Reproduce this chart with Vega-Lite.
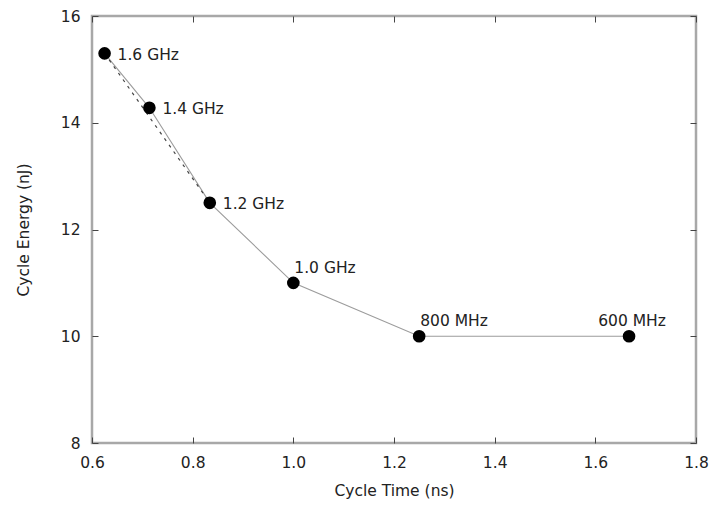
{
  "$schema": "https://vega.github.io/schema/vega-lite/v6.json",
  "autosize": "none",
  "width": 604,
  "height": 427,
  "padding": {"left": 92, "top": 16, "right": 24, "bottom": 63},
  "background": "white",
  "config": {
    "view": {"stroke": "#a8a8a8", "strokeWidth": 2.5},
    "axis": {
      "grid": false,
      "domain": false,
      "tickSize": -6,
      "tickColor": "#444",
      "tickWidth": 1,
      "labelFlush": false,
      "labelOverlap": false,
      "labelFont": "DejaVu Sans",
      "labelFontSize": 15.5,
      "labelColor": "#222",
      "titleFont": "DejaVu Sans",
      "titleFontSize": 15.5,
      "titleFontWeight": "normal",
      "titleColor": "#222"
    },
    "text": {"font": "DejaVu Sans", "fontSize": 15.5, "color": "#222"}
  },
  "datasets": {
    "pts": [
      {"freq": "1.6 GHz", "time": 0.625, "energy": 15.3},
      {"freq": "1.4 GHz", "time": 0.714, "energy": 14.28},
      {"freq": "1.2 GHz", "time": 0.834, "energy": 12.5},
      {"freq": "1.0 GHz", "time": 1.0, "energy": 11.0},
      {"freq": "800 MHz", "time": 1.25, "energy": 10.0},
      {"freq": "600 MHz", "time": 1.667, "energy": 10.0}
    ],
    "dash": [
      {"time": 0.625, "energy": 15.3},
      {"time": 0.834, "energy": 12.5}
    ]
  },
  "resolve": {"axis": {"x": "independent", "y": "independent"}},
  "layer": [
    {
      "data": {"name": "pts"},
      "mark": {"type": "line", "color": "#9c9c9c", "strokeWidth": 1.1},
      "encoding": {
        "x": {"field": "time", "type": "quantitative", "scale": {"domain": [0.6, 1.8], "nice": false, "zero": false},
              "axis": {"orient": "bottom", "title": "Cycle Time (ns)", "values": [0.6, 0.8, 1.0, 1.2, 1.4, 1.6, 1.8], "format": ".1f", "labelPadding": 18, "titlePadding": 13}},
        "y": {"field": "energy", "type": "quantitative", "scale": {"domain": [8, 16], "nice": false, "zero": false},
              "axis": {"orient": "left", "title": "Cycle Energy (nJ)", "values": [8, 10, 12, 14, 16], "labelPadding": 18, "titlePadding": 29}}
      }
    },
    {
      "data": {"name": "dash"},
      "mark": {"type": "line", "color": "#444444", "strokeWidth": 1.2, "strokeDash": [3, 5]},
      "encoding": {
        "x": {"field": "time", "type": "quantitative", "axis": null},
        "y": {"field": "energy", "type": "quantitative", "axis": null}
      }
    },
    {
      "data": {"name": "pts"},
      "mark": {"type": "point", "filled": true, "color": "black", "opacity": 1, "size": 160},
      "encoding": {
        "x": {"field": "time", "type": "quantitative", "axis": null},
        "y": {"field": "energy", "type": "quantitative", "axis": null}
      }
    },
    {
      "data": {"name": "pts"},
      "transform": [{"filter": "indexof(['1.6 GHz','1.4 GHz','1.2 GHz'], datum.freq) >= 0"}],
      "mark": {"type": "text", "align": "left", "baseline": "middle", "dx": 13, "dy": 1.5},
      "encoding": {
        "x": {"field": "time", "type": "quantitative", "axis": null},
        "y": {"field": "energy", "type": "quantitative", "axis": null},
        "text": {"field": "freq"}
      }
    },
    {
      "data": {"name": "pts"},
      "transform": [{"filter": "indexof(['1.0 GHz','800 MHz'], datum.freq) >= 0"}],
      "mark": {"type": "text", "align": "left", "baseline": "alphabetic", "dx": 1, "dy": -10},
      "encoding": {
        "x": {"field": "time", "type": "quantitative", "axis": null},
        "y": {"field": "energy", "type": "quantitative", "axis": null},
        "text": {"field": "freq"}
      }
    },
    {
      "data": {"name": "pts"},
      "transform": [{"filter": "datum.freq == '600 MHz'"}],
      "mark": {"type": "text", "align": "center", "baseline": "alphabetic", "dx": 3, "dy": -10},
      "encoding": {
        "x": {"field": "time", "type": "quantitative", "axis": null},
        "y": {"field": "energy", "type": "quantitative", "axis": null},
        "text": {"field": "freq"}
      }
    },
    {
      "data": {"name": "pts"},
      "mark": {"type": "point", "opacity": 0},
      "encoding": {
        "x": {"field": "time", "type": "quantitative",
              "axis": {"orient": "top", "title": null, "labels": false, "values": [0.6, 0.8, 1.0, 1.2, 1.4, 1.6, 1.8]}},
        "y": {"field": "energy", "type": "quantitative",
              "axis": {"orient": "right", "title": null, "labels": false, "values": [8, 10, 12, 14, 16]}}
      }
    }
  ]
}
